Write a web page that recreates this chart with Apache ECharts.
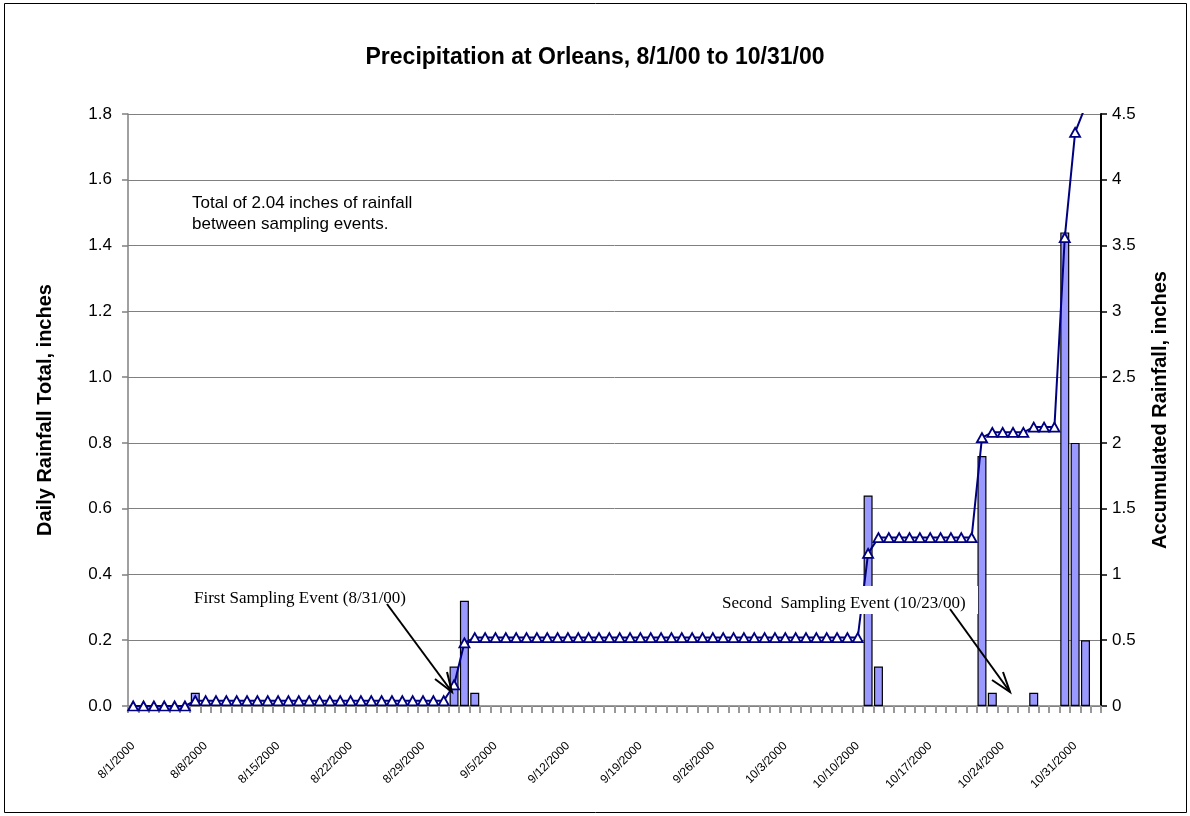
<!DOCTYPE html>
<html>
<head>
<meta charset="utf-8">
<title>Precipitation at Orleans</title>
<script src="https://cdn.jsdelivr.net/npm/echarts@6/dist/echarts.min.js"></script>
<style>
  html, body { margin: 0; padding: 0; background: #fff; }
  #chart { width: 1190px; height: 816px; }
</style>
</head>
<body>
<div id="chart"></div>
<script>
// one category per day, 8/1/2000 .. 11/2/2000
const dates = []
for (let i = 0; i < 94; i++) {
  const d = new Date(2000, 7, 1 + i)
  dates.push(`${d.getMonth() + 1}/${d.getDate()}/${d.getFullYear()}`)
}

// daily rainfall total, inches
const dailyRain = [
  0, 0, 0, 0, 0, 0, 0.04, 0, 0, 0,
  0, 0, 0, 0, 0, 0, 0, 0, 0, 0,
  0, 0, 0, 0, 0, 0, 0, 0, 0, 0,
  0, 0.12, 0.32, 0.04, 0, 0, 0, 0, 0, 0,
  0, 0, 0, 0, 0, 0, 0, 0, 0, 0,
  0, 0, 0, 0, 0, 0, 0, 0, 0, 0,
  0, 0, 0, 0, 0, 0, 0, 0, 0, 0,
  0, 0.64, 0.12, 0, 0, 0, 0, 0, 0, 0,
  0, 0, 0.76, 0.04, 0, 0, 0, 0.04, 0, 0,
  1.44, 0.80, 0.20, 0
]

// accumulated rainfall, inches
const accumulated = [
  0, 0, 0, 0, 0, 0, 0.04, 0.04, 0.04, 0.04,
  0.04, 0.04, 0.04, 0.04, 0.04, 0.04, 0.04, 0.04, 0.04, 0.04,
  0.04, 0.04, 0.04, 0.04, 0.04, 0.04, 0.04, 0.04, 0.04, 0.04,
  0.04, 0.16, 0.48, 0.52, 0.52, 0.52, 0.52, 0.52, 0.52, 0.52,
  0.52, 0.52, 0.52, 0.52, 0.52, 0.52, 0.52, 0.52, 0.52, 0.52,
  0.52, 0.52, 0.52, 0.52, 0.52, 0.52, 0.52, 0.52, 0.52, 0.52,
  0.52, 0.52, 0.52, 0.52, 0.52, 0.52, 0.52, 0.52, 0.52, 0.52,
  0.52, 1.16, 1.28, 1.28, 1.28, 1.28, 1.28, 1.28, 1.28, 1.28,
  1.28, 1.28, 2.04, 2.08, 2.08, 2.08, 2.08, 2.12, 2.12, 2.12,
  3.56, 4.36, 4.56, 4.56
]

// axis ranges
const dailyAxis = { min: 0, max: 1.8, interval: 0.2 }
const accAxis = { min: 0, max: 4.5, interval: 0.5 }

const sans = 'Liberation Sans, Arial, sans-serif'
const serif = 'Liberation Serif, Times New Roman, serif'

const chart = echarts.init(document.getElementById('chart'), null, { renderer: 'canvas' })

const option = {
  animation: false,
  backgroundColor: '#fff',
  title: {
    text: 'Precipitation at Orleans, 8/1/00 to 10/31/00',
    left: 'center',
    top: 41,
    textStyle: { fontFamily: sans, fontSize: 23, fontWeight: 'bold', color: '#000' }
  },
  grid: { left: 128, right: 89, top: 114, bottom: 110 },
  xAxis: {
    type: 'category',
    data: dates,
    boundaryGap: true,
    axisLine: { lineStyle: { color: '#808080', width: 1.5 } },
    axisTick: { show: true, interval: 0, length: 7, lineStyle: { color: '#999', width: 2 } },
    axisLabel: {
      interval: 6,
      rotate: 45,
      margin: 38,
      fontFamily: sans,
      fontSize: 12,
      color: '#000'
    },
    splitLine: { show: false }
  },
  yAxis: [
    {
      type: 'value',
      position: 'left',
      min: dailyAxis.min,
      max: dailyAxis.max,
      interval: dailyAxis.interval,
      name: 'Daily Rainfall Total, inches',
      nameLocation: 'middle',
      nameRotate: 90,
      nameGap: 73,
      nameTextStyle: { fontFamily: sans, fontSize: 20, fontWeight: 'bold', color: '#000' },
      axisLine: { show: true, lineStyle: { color: '#808080', width: 1.5 } },
      axisTick: { show: true, length: 6, lineStyle: { color: '#808080', width: 1.5 } },
      axisLabel: {
        margin: 16,
        fontFamily: sans,
        fontSize: 17,
        color: '#000',
        formatter: v => v.toFixed(1)
      },
      splitLine: { show: true, lineStyle: { color: '#808080', width: 1 } }
    },
    {
      type: 'value',
      position: 'right',
      min: accAxis.min,
      max: accAxis.max,
      interval: accAxis.interval,
      name: 'Accumulated Rainfall, inches',
      nameLocation: 'middle',
      nameRotate: 90,
      nameGap: 49,
      nameTextStyle: { fontFamily: sans, fontSize: 20, fontWeight: 'bold', color: '#000' },
      axisLine: { show: true, lineStyle: { color: '#000', width: 2 } },
      axisTick: { show: true, length: 6, lineStyle: { color: '#000', width: 1.5 } },
      axisLabel: { margin: 11, fontFamily: sans, fontSize: 17, color: '#000' },
      splitLine: { show: false }
    }
  ],
  series: [
    {
      name: 'Daily Rainfall',
      type: 'bar',
      yAxisIndex: 0,
      barWidth: 9,
      data: dailyRain.map(v => (v === 0 ? '-' : v)),
      itemStyle: { color: '#9999ff', borderColor: '#000', borderWidth: 1.2 }
    },
    {
      name: 'Accumulated Rainfall',
      type: 'line',
      yAxisIndex: 1,
      data: accumulated,
      symbol: 'triangle',
      symbolSize: [10, 9],
      showAllSymbol: true,
      clip: true,
      lineStyle: { color: '#000080', width: 2 },
      itemStyle: { color: '#fff', borderColor: '#000080', borderWidth: 1.8 },
      z: 3
    }
  ],
  graphic: [
    // outer frame
    {
      type: 'rect',
      z: 100,
      shape: { x: 4.5, y: 3.5, width: 1182, height: 809 },
      style: { fill: null, stroke: '#000', lineWidth: 1 }
    },
    {
      type: 'text',
      z: 100,
      left: 192,
      top: 193,
      style: {
        text: 'Total of 2.04 inches of rainfall\nbetween sampling events.',
        font: `17px ${sans}`,
        lineHeight: 21,
        fill: '#000'
      }
    },
    // first sampling event
    {
      type: 'rect',
      z: 100,
      shape: { x: 188, y: 587, width: 232, height: 24 },
      style: { fill: '#fff', stroke: null }
    },
    {
      type: 'text',
      z: 101,
      left: 194,
      top: 590,
      style: { text: 'First Sampling Event (8/31/00)', font: `17px ${serif}`, fill: '#000' }
    },
    {
      type: 'polyline',
      z: 102,
      shape: { points: [[387, 604], [452, 692]] },
      style: { stroke: '#000', lineWidth: 2, fill: null }
    },
    {
      type: 'polyline',
      z: 102,
      shape: { points: [[435, 679], [452, 692], [447, 672]] },
      style: { stroke: '#000', lineWidth: 2, fill: null }
    },
    // second sampling event
    {
      type: 'rect',
      z: 100,
      shape: { x: 715, y: 586, width: 263, height: 28 },
      style: { fill: '#fff', stroke: null }
    },
    {
      type: 'text',
      z: 101,
      left: 722,
      top: 595,
      style: { text: 'Second  Sampling Event (10/23/00)', font: `17px ${serif}`, fill: '#000' }
    },
    {
      type: 'polyline',
      z: 102,
      shape: { points: [[950, 609], [1010, 692]] },
      style: { stroke: '#000', lineWidth: 2, fill: null }
    },
    {
      type: 'polyline',
      z: 102,
      shape: { points: [[992, 680], [1010, 692], [1003, 672]] },
      style: { stroke: '#000', lineWidth: 2, fill: null }
    }
  ]
}

chart.setOption(option)
</script>
</body>
</html>
